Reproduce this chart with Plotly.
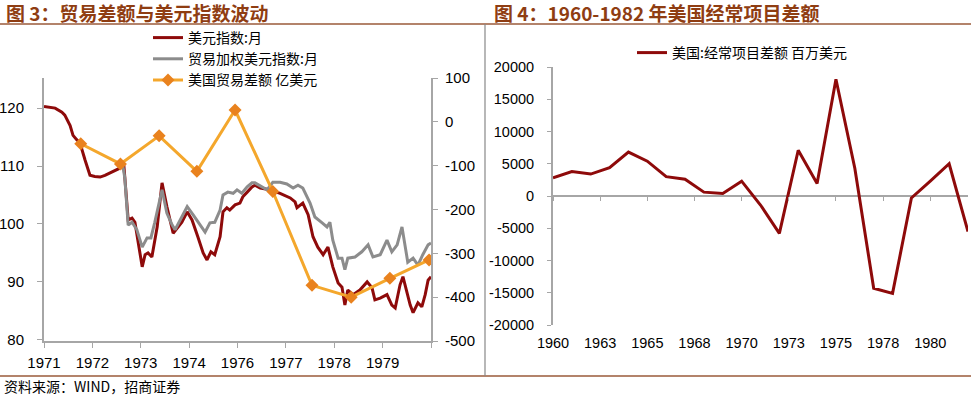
import plotly.graph_objects as go

# ---------------- Left panel data (figure 3) ----------------
# position along the category axis (0 = 1971 tick, 8 = last tick)
usd_idx_x = [0.00, 0.12, 0.23, 0.37, 0.43, 0.54, 0.60, 0.68, 0.74, 0.85, 0.95, 1.05, 1.16, 1.26, 1.36, 1.49,
             1.61, 1.65, 1.74, 1.82, 1.88, 1.94, 2.03, 2.09, 2.15, 2.23, 2.34, 2.44, 2.54, 2.67, 2.77, 2.85,
             2.96, 3.06, 3.18, 3.29, 3.37, 3.45, 3.53, 3.64, 3.70, 3.78, 3.84, 3.95, 4.05, 4.11, 4.20, 4.30,
             4.36, 4.47, 4.67, 4.88, 5.09, 5.19, 5.23, 5.35, 5.46, 5.56, 5.66, 5.77, 5.87, 5.97, 6.08, 6.16,
             6.22, 6.28, 6.39, 6.53, 6.68, 6.78, 6.84, 6.95, 7.09, 7.19, 7.26, 7.36, 7.42, 7.50, 7.57, 7.63,
             7.73, 7.81, 7.88, 7.94, 8.00]
usd_idx = [120.3, 120.2, 120.0, 119.3, 118.8, 117.0, 115.3, 114.5, 114.1, 111.0, 108.4, 108.2, 108.1, 108.4, 108.8, 109.3,
           109.8, 110.2, 100.7, 101.0, 100.3, 97.2, 92.6, 94.7, 95.0, 94.3, 99.5, 107.1, 103.0, 98.4, 99.5, 100.3,
           102.1, 100.7, 97.8, 95.0, 93.8, 95.2, 94.7, 97.8, 102.1, 102.8, 102.4, 103.3, 103.6, 104.7, 105.5, 106.4,
           106.7, 106.2, 105.9, 105.3, 104.5, 103.8, 102.8, 103.6, 101.6, 97.8, 96.0, 94.7, 96.0, 92.6, 89.8, 89.1,
           86.0, 88.6, 87.8, 88.6, 90.0, 89.0, 86.9, 87.2, 87.8, 86.0, 85.5, 89.5, 90.9, 88.0, 86.0, 84.7,
           86.4, 85.7, 87.8, 90.3, 90.9]

twi_x = [1.63, 1.67, 1.74, 1.82, 1.92, 2.03, 2.13, 2.21, 2.29, 2.44, 2.54, 2.65, 2.71, 2.81, 2.96, 3.08,
         3.22, 3.33, 3.43, 3.53, 3.64, 3.70, 3.80, 3.91, 3.99, 4.09, 4.20, 4.30, 4.36, 4.61, 4.73, 4.88,
         5.02, 5.15, 5.25, 5.35, 5.50, 5.60, 5.75, 5.85, 5.91, 5.97, 6.08, 6.16, 6.22, 6.28, 6.43, 6.57,
         6.70, 6.80, 6.95, 7.09, 7.19, 7.30, 7.40, 7.46, 7.52, 7.63, 7.73, 7.83, 7.94, 8.00]
twi = [110.0, 108.0, 99.8, 100.3, 99.0, 96.0, 97.6, 97.6, 100.3, 105.9, 101.9, 99.8, 99.0, 100.7, 103.0, 101.6,
       99.8, 98.6, 100.2, 100.3, 102.4, 105.0, 105.5, 105.3, 105.9, 105.3, 106.4, 107.1, 107.1, 105.9, 107.2, 107.2,
       106.9, 106.2, 106.7, 106.2, 103.6, 101.2, 100.2, 99.5, 100.3, 97.2, 94.1, 94.1, 92.1, 94.1, 94.3, 95.2,
       96.4, 94.3, 94.7, 97.2, 95.2, 96.4, 99.5, 96.7, 93.4, 94.1, 92.9, 94.7, 96.4, 96.7]

trade_x = [0.76, 1.58, 2.38, 3.16, 3.95, 4.73, 5.54, 6.35, 7.15, 7.96]
trade_bal = [-50, -96, -32, -113, 27, -159, -373, -400, -357, -315]

left_tick_pos = [0, 1, 2, 3, 4, 5, 6, 7, 8]
left_tick_text = ["1971", "1972", "1973", "1974", "1976", "1977", "1978", "1979", ""]
left_y_ticks = [80, 90, 100, 110, 120]
right_y_ticks = [100, 0, -100, -200, -300, -400, -500]
right_y_text = ["100", "0", "-100", "-200", "-300", "-400", "-500"]

# ---------------- Right panel data (figure 4) ----------------
years = list(range(1960, 1983))
current_account = [2800, 3800, 3400, 4400, 6800, 5400, 3000, 2600, 600, 400, 2300, -1400, -5800, 7100,
                   1950, 18100, 4300, -14300, -15100, -300, 2300, 5000, -5500]
ca_tick_pos = [1960, 1962.5, 1965, 1967.5, 1970, 1972.5, 1975, 1977.5, 1980]
ca_tick_text = ["1960", "1963", "1965", "1968", "1970", "1973", "1975", "1978", "1980"]
ca_y_ticks = [20000, 15000, 10000, 5000, 0, -5000, -10000, -15000, -20000]
ca_y_text = ["20000", "15000", "10000", "5000", "0", "-5000", "-10000", "-15000", "-20000"]

W, H = 971, 395
def px(x):
    return x / W
def py(y):
    return 1 - y / H

DARKRED = "#8E0A0A"
GRAY = "#8C8C8C"
ORANGE = "#F4A72C"
ORANGE_MK = "#E9821E"
AXIS = "#A6A6A6"
BROWN = "#8F3D12"
NUMFONT = "Liberation Sans, Arial, sans-serif"
CJK = "Noto Sans CJK SC"

fig = go.Figure()
fig.add_trace(go.Scatter(x=usd_idx_x, y=usd_idx, mode="lines", name="美元指数:月",
                         line=dict(color=DARKRED, width=3), xaxis="x", yaxis="y", legend="legend"))
fig.add_trace(go.Scatter(x=twi_x, y=twi, mode="lines", name="贸易加权美元指数:月",
                         line=dict(color=GRAY, width=3), xaxis="x", yaxis="y", legend="legend"))
fig.add_trace(go.Scatter(x=trade_x, y=trade_bal, mode="lines+markers", name="美国贸易差额 亿美元",
                         line=dict(color=ORANGE, width=3),
                         marker=dict(symbol="diamond", size=10, color=ORANGE_MK),
                         xaxis="x", yaxis="y2", legend="legend"))
fig.add_trace(go.Scatter(x=years, y=current_account, mode="lines", name="美国:经常项目差额 百万美元",
                         line=dict(color=DARKRED, width=3), xaxis="x2", yaxis="y3", legend="legend2"))
# invisible trace to host tick marks on zero line
fig.add_trace(go.Scatter(x=[years[0], years[-1]], y=[0, 0], mode="lines", showlegend=False,
                         line=dict(width=0), hoverinfo="skip", xaxis="x3", yaxis="y3"))

ld = [px(44), px(431)]
ldy = [py(341), py(78)]
rd = [px(553), px(968)]
rdy = [py(325), py(67)]

fig.update_layout(
    width=W, height=H, autosize=False,
    margin=dict(l=0, r=0, t=0, b=0, pad=0, autoexpand=False),
    paper_bgcolor="white", plot_bgcolor="white",
    showlegend=True,
    xaxis=dict(domain=ld, anchor="y", range=[0, 8], tickmode="array", tickvals=left_tick_pos,
               ticktext=left_tick_text, ticks="outside", ticklen=5, tickcolor=AXIS, showline=True,
               linecolor=AXIS, linewidth=2, showgrid=False, zeroline=False, automargin=False,
               ticklabelstandoff=2,
               tickfont=dict(family=NUMFONT, size=15, color="black")),
    yaxis=dict(domain=ldy, anchor="x", range=[79.8, 125.2], tickmode="array", tickvals=left_y_ticks,
               ticks="outside", ticklen=5, tickcolor=AXIS, showline=True, linecolor=AXIS, linewidth=2,
               showgrid=False, zeroline=False, ticklabelstandoff=10, automargin=False,
               tickfont=dict(family=NUMFONT, size=15, color="black")),
    yaxis2=dict(overlaying="y", side="right", anchor="x", range=[-500, 100], tickmode="array",
                tickvals=right_y_ticks, ticktext=right_y_text, ticks="outside", ticklen=5, tickcolor=AXIS,
                showline=True, linecolor=AXIS, linewidth=2, showgrid=False, zeroline=False,
                ticklabelstandoff=4, automargin=False,
                tickfont=dict(family=NUMFONT, size=15, color="black")),
    xaxis2=dict(domain=rd, anchor="y3", range=[1960, 1982], tickmode="array", tickvals=ca_tick_pos,
                ticktext=ca_tick_text, ticks="", showline=False, showgrid=False, zeroline=False,
                automargin=False, ticklabelstandoff=7,
                tickfont=dict(family=NUMFONT, size=14.5, color="black")),
    xaxis3=dict(domain=rd, overlaying="x2", anchor="free", position=(rdy[0] + rdy[1]) / 2,
                range=[1960, 1982], tickmode="array", tickvals=ca_tick_pos, showticklabels=False,
                ticks="outside", ticklen=4, tickcolor=AXIS, showline=False, showgrid=False, zeroline=False,
                automargin=False),
    yaxis3=dict(domain=rdy, anchor="x2", range=[-20000, 20000], tickmode="array", tickvals=ca_y_ticks,
                ticktext=ca_y_text, ticks="outside", ticklen=4, tickcolor=AXIS, showline=True,
                linecolor=AXIS, linewidth=2, showgrid=False, zeroline=True, zerolinecolor=AXIS,
                zerolinewidth=2, ticklabelstandoff=10, automargin=False,
                tickfont=dict(family=NUMFONT, size=14.5, color="black")),
    legend=dict(x=px(148), y=py(22), xanchor="left", yanchor="top", bgcolor="rgba(0,0,0,0)",
                font=dict(family=CJK, size=14, color="black"), tracegroupgap=0, itemwidth=30,
                itemclick=False),
    legend2=dict(x=px(632), y=py(37), xanchor="left", yanchor="top", bgcolor="rgba(0,0,0,0)",
                 font=dict(family=CJK, size=14, color="black"), itemwidth=30),
)

# titles and source
fig.add_annotation(text="<b>图 3：贸易差额与美元指数波动</b>", xref="paper", yref="paper",
                   x=px(4), y=py(12), xanchor="left", yanchor="middle", showarrow=False,
                   font=dict(family=CJK, size=19, color=BROWN))
fig.add_annotation(text="<b>图 4：1960-1982 年美国经常项目差额</b>", xref="paper", yref="paper",
                   x=px(492), y=py(12), xanchor="left", yanchor="middle", showarrow=False,
                   font=dict(family=CJK, size=19, color=BROWN))
fig.add_annotation(text="资料来源：WIND，招商证券", xref="paper", yref="paper",
                   x=px(2), y=py(386), xanchor="left", yanchor="middle", showarrow=False,
                   font=dict(family=CJK, size=14, color="black"))

# frame lines
fig.add_shape(type="line", xref="paper", yref="paper", x0=0, x1=1, y0=py(24), y1=py(24),
              line=dict(color="#9A5A3A", width=1.5))
fig.add_shape(type="line", xref="paper", yref="paper", x0=0, x1=1, y0=py(376), y1=py(376),
              line=dict(color="#9A5A3A", width=1.5))
fig.add_shape(type="line", xref="paper", yref="paper", x0=px(485), x1=px(485), y0=py(24), y1=py(376),
              line=dict(color="#888888", width=1.2))

fig.write_html("out.html", config={"displayModeBar": False},
               post_script="document.body.style.margin='0';document.body.style.overflow='hidden';")
